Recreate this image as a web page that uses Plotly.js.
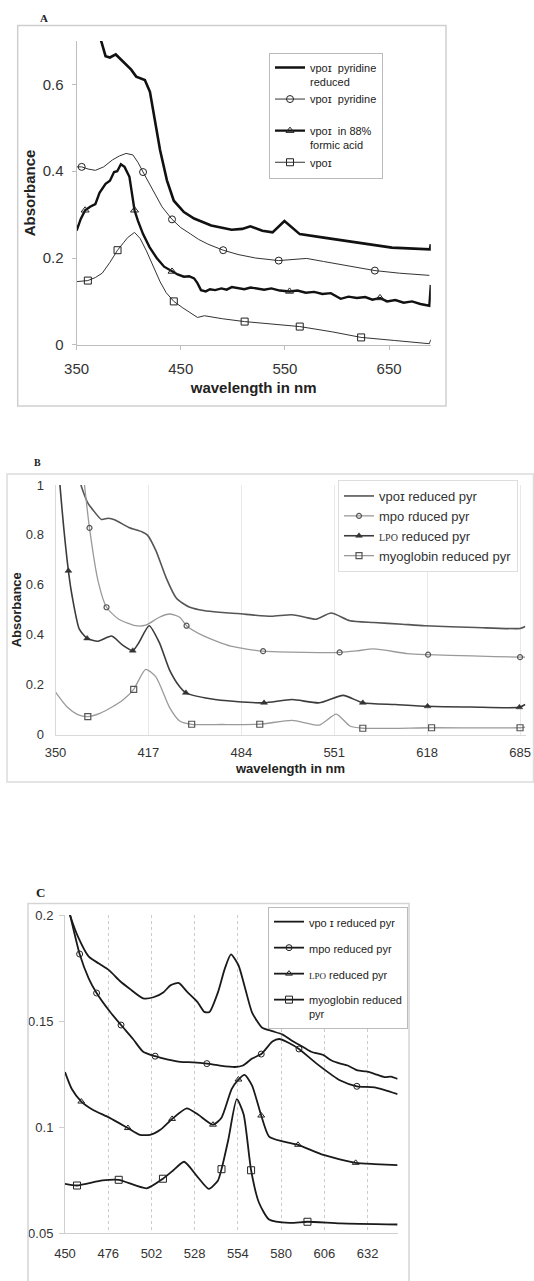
<!DOCTYPE html>
<html>
<head>
<meta charset="utf-8">
<script src="https://cdn.plot.ly/plotly-3.0.1.min.js"></script>
<style>
html,body{margin:0;padding:0;background:#fff;}
#chart{width:534px;height:1281px;}
</style>
</head>
<body>
<div id="chart"></div>
<script>
// ---------------- Panel A data ----------------
const A_xticks = [350, 450, 550, 650];
const A_yticks = [0, 0.2, 0.4, 0.6];

const A_pyrRed_x = [372, 373.6, 377.8, 382, 387.6, 394.2, 402.4, 407.2, 415.5, 420.4, 425.3, 430.1, 436.7, 443.3, 453, 462.8, 479.2, 498.8, 509, 516.8, 528.3, 538.1, 549.5, 557.7, 564.2, 587.2, 619.8, 652.6, 689.2, 690];
const A_pyrRed_y = [0.72, 0.70, 0.665, 0.662, 0.669, 0.654, 0.634, 0.618, 0.610, 0.583, 0.52, 0.449, 0.379, 0.332, 0.306, 0.291, 0.275, 0.265, 0.267, 0.273, 0.263, 0.259, 0.285, 0.267, 0.255, 0.247, 0.236, 0.224, 0.22, 0.232];

const A_pyr_x = [350, 354.9, 361, 368, 376, 384.4, 391, 397.5, 404, 409, 413.8, 420, 426, 432, 441.6, 450, 459.6, 467, 476, 490.7, 505, 521.7, 544, 557, 570.8, 587, 603.5, 620, 636.3, 660, 688.6];
const A_pyr_y = [0.41, 0.41, 0.405, 0.402, 0.41, 0.426, 0.435, 0.441, 0.4375, 0.42, 0.398, 0.37, 0.342, 0.318, 0.289, 0.27, 0.255, 0.243, 0.232, 0.218, 0.208, 0.2, 0.194, 0.196, 0.199, 0.192, 0.185, 0.178, 0.171, 0.165, 0.16];
const A_pyr_mx = [354.9, 413.8, 441.6, 490.7, 544, 636.3];
const A_pyr_my = [0.41, 0.398, 0.289, 0.218, 0.194, 0.171];

const A_formic_x = [350, 354, 358.2, 363, 368, 372, 377.8, 382, 386, 389, 392.5, 396, 400.7, 405.6, 409, 413.8, 420, 426.9, 434, 441.6, 447, 453, 458, 462.8, 466, 469.4, 474, 478, 483, 489, 494, 499, 505.4, 511, 517, 523, 530, 537, 545, 554.4, 562, 570, 578, 586, 594, 603.5, 611, 619, 627, 634, 641.2, 648, 656, 664, 672, 680, 688.6, 690];
const A_formic_y = [0.263, 0.29, 0.31, 0.318, 0.324, 0.35, 0.371, 0.378, 0.398, 0.40, 0.416, 0.41, 0.387, 0.31, 0.285, 0.255, 0.225, 0.2, 0.18, 0.169, 0.162, 0.157, 0.158, 0.153, 0.142, 0.126, 0.123, 0.128, 0.126, 0.13, 0.127, 0.133, 0.131, 0.128, 0.132, 0.129, 0.127, 0.13, 0.125, 0.123, 0.125, 0.12, 0.122, 0.117, 0.119, 0.106, 0.111, 0.108, 0.11, 0.104, 0.108, 0.1, 0.103, 0.097, 0.1, 0.094, 0.09, 0.138];
const A_formic_mx = [358.2, 405.6, 441.6, 554.4, 641.2];
const A_formic_my = [0.31, 0.31, 0.169, 0.123, 0.108];

const A_vpo_x = [350, 360.8, 368, 374.6, 382, 389.3, 395, 399, 405.6, 411, 417.1, 424, 430.2, 436, 443.3, 452, 460, 466.1, 472.7, 490, 511.3, 540, 564.2, 595, 623.1, 655, 688.6, 690];
const A_vpo_y = [0.1455, 0.148, 0.155, 0.165, 0.19, 0.218, 0.235, 0.247, 0.259, 0.245, 0.216, 0.18, 0.145, 0.12, 0.1, 0.085, 0.072, 0.063, 0.067, 0.06, 0.0535, 0.048, 0.042, 0.03, 0.017, 0.01, 0.0025, 0.012];
const A_vpo_mx = [360.8, 389.3, 443.3, 511.3, 564.2, 623.1];
const A_vpo_my = [0.148, 0.218, 0.1, 0.0535, 0.042, 0.017];

const A_names = ['vpoɪ  pyridine<br>reduced', 'vpoɪ  pyridine<br>&nbsp;', 'vpoɪ  in 88%<br>formic acid', 'vpoɪ'];

// ---------------- Panel B data ----------------
const B_xticks = [350, 417, 484, 551, 618, 685];
const B_yticks = [0, 0.2, 0.4, 0.6, 0.8, 1];

const B_vpo_x = [366, 368.4, 373.3, 377, 383.1, 388, 393, 402.8, 412.6, 416.3, 422.4, 429.8, 437.1, 442, 446.9, 456.8, 468, 481.3, 494, 505.8, 520.6, 530, 537.7, 548.8, 562.3, 579.5, 600, 616.3, 653.1, 685, 688.7];
const B_vpo_y = [1.1, 1.0, 0.928, 0.9, 0.862, 0.867, 0.86, 0.83, 0.812, 0.799, 0.737, 0.628, 0.547, 0.525, 0.51, 0.497, 0.49, 0.485, 0.478, 0.474, 0.48, 0.47, 0.462, 0.487, 0.456, 0.449, 0.442, 0.436, 0.429, 0.425, 0.433];

const B_mpo_x = [369, 370.9, 374.5, 380.7, 386.8, 395.4, 407.7, 415, 424.9, 432.2, 439.6, 444.5, 456.8, 476.4, 499.7, 530.4, 554.9, 567, 579.5, 604, 618.7, 650, 685, 688.7];
const B_mpo_y = [1.1, 1.0, 0.828, 0.615, 0.51, 0.463, 0.436, 0.438, 0.47, 0.483, 0.47, 0.436, 0.395, 0.354, 0.334, 0.329, 0.329, 0.335, 0.343, 0.324, 0.32, 0.315, 0.31, 0.31];
const B_mpo_mx = [374.5, 386.8, 444.5, 499.7, 554.9, 618.7, 685];
const B_mpo_my = [0.828, 0.51, 0.436, 0.334, 0.329, 0.32, 0.31];

const B_lpo_x = [352, 353.2, 359.3, 362.3, 367.2, 372.8, 380.7, 390.5, 398, 405.7, 410.1, 417.5, 424.9, 432.2, 439.6, 444, 461.7, 480, 500.4, 520.6, 540.2, 557.4, 571.6, 595, 618.3, 650, 684.5, 688.7];
const B_lpo_y = [1.1, 1.0, 0.656, 0.545, 0.422, 0.385, 0.374, 0.395, 0.36, 0.336, 0.368, 0.436, 0.368, 0.259, 0.191, 0.167, 0.143, 0.132, 0.127, 0.14, 0.127, 0.157, 0.127, 0.12, 0.113, 0.11, 0.109, 0.12];
const B_lpo_mx = [359.3, 372.8, 405.7, 444, 500.4, 571.6, 618.3, 684.5];
const B_lpo_my = [0.656, 0.385, 0.336, 0.167, 0.127, 0.127, 0.113, 0.109];

const B_myo_x = [350, 358.6, 366, 373.3, 382, 390.5, 399, 406.4, 415, 422.4, 432.2, 439.6, 448.2, 470, 497.3, 520.6, 540.2, 552.5, 562.3, 571.6, 621.2, 685, 688.7];
const B_myo_y = [0.17, 0.109, 0.08, 0.072, 0.085, 0.109, 0.14, 0.181, 0.261, 0.231, 0.109, 0.054, 0.041, 0.04, 0.041, 0.057, 0.038, 0.082, 0.034, 0.025, 0.027, 0.027, 0.03];
const B_myo_mx = [373.3, 406.4, 448.2, 497.3, 571.6, 621.2, 685];
const B_myo_my = [0.072, 0.181, 0.041, 0.041, 0.025, 0.027, 0.027];

const B_names = ['vpoɪ reduced pyr', 'mpo rduced pyr', '<span style="font-family:Liberation Serif;font-size:10px">LPO</span> reduced pyr', 'myoglobin reduced pyr'];

// ---------------- Panel C data ----------------
const C_xticks = [450, 476, 502, 528, 554, 580, 606, 632];
const C_yticks = [0.05, 0.1, 0.15, 0.2];

const C_vpo_x = [452, 453.1, 458.2, 464.3, 470.4, 476.6, 482.7, 488.9, 497, 503.2, 509.3, 513.4, 518.5, 523.6, 529.8, 533.8, 536.9, 542, 546.1, 549.8, 554.3, 558.4, 562.5, 568.6, 574.7, 580.9, 587, 591.1, 598, 605.4, 610, 615.6, 620, 625.9, 631, 636.1, 642.2, 646, 650];
const C_vpo_y = [0.203, 0.1998, 0.1891, 0.1804, 0.1771, 0.1739, 0.1691, 0.1652, 0.1607, 0.1612, 0.1636, 0.1668, 0.1679, 0.1636, 0.1588, 0.1543, 0.1543, 0.1636, 0.1747, 0.1814, 0.1763, 0.1652, 0.154, 0.1468, 0.1452, 0.1436, 0.1404, 0.1387, 0.1355, 0.1339, 0.1315, 0.1299, 0.129, 0.1267, 0.1262, 0.1251, 0.1235, 0.1238, 0.1227];

const C_mpo_x = [452, 453.1, 458.8, 464.3, 469, 476.6, 483.7, 490.9, 497, 504.2, 512, 519.5, 527, 535.3, 543, 552.2, 557, 562.5, 568, 574.7, 578.8, 585, 590.7, 601.3, 615.6, 625.5, 636.1, 650];
const C_mpo_y = [0.203, 0.1998, 0.1816, 0.17, 0.1632, 0.1548, 0.1481, 0.1415, 0.1355, 0.1334, 0.1318, 0.1307, 0.1305, 0.1299, 0.129, 0.1283, 0.129, 0.1323, 0.1344, 0.1403, 0.1415, 0.1395, 0.1368, 0.1299, 0.1219, 0.1192, 0.1187, 0.1155];
const C_mpo_mx = [458.8, 469, 483.7, 504.2, 535.3, 568, 590.7, 625.5];
const C_mpo_my = [0.1816, 0.1632, 0.1481, 0.1334, 0.1299, 0.1344, 0.1368, 0.1192];

const C_lpo_x = [450, 454.1, 459.8, 466.4, 476.6, 487.8, 495, 501.1, 507.3, 514.4, 523.2, 529.8, 539, 544.1, 550.2, 554.3, 558, 562.5, 568, 572.7, 580.9, 590.1, 605.4, 624.8, 636, 650];
const C_lpo_y = [0.1259, 0.1179, 0.112, 0.1083, 0.1044, 0.0995, 0.0963, 0.0963, 0.0987, 0.1038, 0.1088, 0.106, 0.1011, 0.1044, 0.1179, 0.1224, 0.1246, 0.1195, 0.1054, 0.0955, 0.0932, 0.0916, 0.0868, 0.0831, 0.0825, 0.082];
const C_lpo_mx = [459.8, 487.8, 514.4, 539, 554.3, 568, 590.1, 624.8];
const C_lpo_my = [0.112, 0.0995, 0.1038, 0.1011, 0.1224, 0.1054, 0.0916, 0.0831];

const C_myo_x = [450, 457.2, 472.5, 482.3, 499.1, 508.9, 515, 521.6, 529.8, 536.5, 542, 544.1, 548.2, 553.3, 557.4, 561.9, 566.6, 572.7, 585, 595.8, 615.6, 650];
const C_myo_y = [0.0732, 0.0724, 0.0748, 0.0751, 0.0711, 0.0756, 0.0795, 0.0836, 0.0764, 0.0708, 0.0748, 0.0801, 0.094, 0.1131, 0.106, 0.0796, 0.0644, 0.0564, 0.0548, 0.0553, 0.0545, 0.054];
const C_myo_mx = [457.2, 482.3, 508.9, 544.1, 561.9, 595.8];
const C_myo_my = [0.0724, 0.0751, 0.0756, 0.0801, 0.0796, 0.0553];

const C_names = ['vpo ɪ reduced pyr', 'mpo reduced pyr', '<span style="font-family:Liberation Serif;font-size:9px">LPO</span> reduced pyr', 'myoglobin reduced<br>pyr'];

// ---------------- helpers ----------------
const W = 534, H = 1281;
const FONT = 'Liberation Sans, Arial, Helvetica, sans-serif';
const px = v => v / W;
const py = v => 1 - v / H;

const traces = [];
function series(ax, leg, name, group, x, y, mx, my, line, marker, shape) {
  const xa = 'x' + ax, ya = 'y' + ax;
  traces.push({x: x, y: y, xaxis: xa, yaxis: ya, mode: 'lines', line: Object.assign({shape: shape || 'linear', smoothing: 0.6}, line), showlegend: false, hoverinfo: 'skip', cliponaxis: true});
  if (mx) {
    traces.push({x: mx, y: my, xaxis: xa, yaxis: ya, mode: 'markers', marker: marker, showlegend: false, hoverinfo: 'skip', cliponaxis: false});
  }
  traces.push({x: [null], y: [null], xaxis: xa, yaxis: ya, name: name, legend: leg, legendgroup: group,
    mode: mx ? 'lines+markers' : 'lines', line: {color: line.color, width: line.width}, marker: marker || {}, showlegend: true});
}

// Panel A
series('', 'legend', A_names[0], 'a1', A_pyrRed_x, A_pyrRed_y, null, null, {color: '#111', width: 2.6});
series('', 'legend', A_names[1], 'a2', A_pyr_x, A_pyr_y, A_pyr_mx, A_pyr_my, {color: '#333', width: 1},
  {symbol: 'circle-open', size: 7, color: '#222', line: {width: 1, color: '#222'}});
series('', 'legend', A_names[2], 'a3', A_formic_x, A_formic_y, A_formic_mx, A_formic_my, {color: '#111', width: 2.4},
  {symbol: 'triangle-up-open', size: 7, color: '#222', line: {width: 1, color: '#222'}});
series('', 'legend', A_names[3], 'a4', A_vpo_x, A_vpo_y, A_vpo_mx, A_vpo_my, {color: '#333', width: 1},
  {symbol: 'square-open', size: 7, color: '#222', line: {width: 1, color: '#222'}});

// Panel B
series('2', 'legend2', B_names[0], 'b1', B_vpo_x, B_vpo_y, null, null, {color: '#555', width: 1.6}, null, 'spline');
series('2', 'legend2', B_names[1], 'b2', B_mpo_x, B_mpo_y, B_mpo_mx, B_mpo_my, {color: '#9a9a9a', width: 1.3},
  {symbol: 'circle-open', size: 5, color: '#555', line: {width: 1.2, color: '#555'}}, 'spline');
series('2', 'legend2', B_names[2], 'b3', B_lpo_x, B_lpo_y, B_lpo_mx, B_lpo_my, {color: '#3c3c3c', width: 1.6},
  {symbol: 'triangle-up', size: 6, color: '#333', line: {width: 0.5, color: '#333'}}, 'spline');
series('2', 'legend2', B_names[3], 'b4', B_myo_x, B_myo_y, B_myo_mx, B_myo_my, {color: '#9a9a9a', width: 1.3},
  {symbol: 'square-open', size: 6, color: '#555', line: {width: 1.2, color: '#555'}}, 'spline');

// Panel C
series('3', 'legend3', C_names[0], 'c1', C_vpo_x, C_vpo_y, null, null, {color: '#1a1a1a', width: 1.8}, null, 'spline');
series('3', 'legend3', C_names[1], 'c2', C_mpo_x, C_mpo_y, C_mpo_mx, C_mpo_my, {color: '#1a1a1a', width: 1.8},
  {symbol: 'circle-open', size: 6, color: '#222', line: {width: 1, color: '#222'}}, 'spline');
series('3', 'legend3', C_names[2], 'c3', C_lpo_x, C_lpo_y, C_lpo_mx, C_lpo_my, {color: '#1a1a1a', width: 1.8},
  {symbol: 'triangle-up-open', size: 6, color: '#222', line: {width: 1, color: '#222'}}, 'spline');
series('3', 'legend3', C_names[3], 'c4', C_myo_x, C_myo_y, C_myo_mx, C_myo_my, {color: '#1a1a1a', width: 1.8},
  {symbol: 'square-open', size: 7, color: '#222', line: {width: 1, color: '#222'}}, 'spline');

// ---------------- layout ----------------
const tickGrey = '#bdbdbd';
const layout = {
  width: W, height: H,
  margin: {l: 0, r: 0, t: 0, b: 0},
  paper_bgcolor: '#fff', plot_bgcolor: 'rgba(0,0,0,0)',
  font: {family: FONT, color: '#222'},
  showlegend: true,
  // Panel A axes
  xaxis: {domain: [px(76.6), px(430.8)], range: [350, 690], anchor: 'y', showline: true, linecolor: tickGrey, linewidth: 1,
    ticks: 'outside', ticklen: 4, tickcolor: tickGrey, tickvals: A_xticks, showgrid: false, zeroline: false,
    tickfont: {size: 15, color: '#333'}, ticklabelstandoff: 6,
    title: {text: 'wavelength in nm', font: {size: 15, weight: 'bold', color: '#222'}, standoff: 6}},
  yaxis: {domain: [py(344.8), py(41)], range: [0, 0.7], anchor: 'x', showline: true, linecolor: tickGrey, linewidth: 1,
    ticks: 'outside', ticklen: 4, tickcolor: tickGrey, tickvals: A_yticks, showgrid: false, zeroline: false,
    tickfont: {size: 15, color: '#333'}, ticklabelstandoff: 5,
    title: {text: 'Absorbance', font: {size: 15, weight: 'bold', color: '#222'}, standoff: 3}},
  // Panel B axes
  xaxis2: {domain: [px(55.5), px(525.6)], range: [350, 689], anchor: 'y2', showline: true, linecolor: '#d9d9d9', linewidth: 1,
    ticks: '', tickvals: B_xticks, showgrid: true, gridcolor: '#e8e8e8', gridwidth: 1, zeroline: false,
    tickfont: {size: 13, color: '#333'}, ticklabelstandoff: 6,
    title: {text: 'wavelength in nm', font: {size: 13, weight: 'bold', color: '#222'}, standoff: 4}},
  yaxis2: {domain: [py(734.5), py(485)], range: [0, 1], anchor: 'x2', showline: true, linecolor: '#d9d9d9', linewidth: 1,
    ticks: '', tickvals: B_yticks, showgrid: false, zeroline: false,
    tickfont: {size: 13, color: '#333'}, ticklabelstandoff: 8,
    title: {text: 'Absorbance', font: {size: 13, weight: 'bold', color: '#222'}, standoff: 1}},
  // Panel C axes
  xaxis3: {domain: [px(65), px(397.6)], range: [450, 650], anchor: 'y3', showline: true, linecolor: '#cfcfcf', linewidth: 1,
    ticks: '', tickvals: C_xticks, showgrid: true, gridcolor: '#cccccc', griddash: 'dot', gridwidth: 1, zeroline: false,
    tickfont: {size: 13, color: '#333'}, ticklabelstandoff: 8},
  yaxis3: {domain: [py(1233), py(915)], range: [0.05, 0.2], anchor: 'x3', showline: true, linecolor: '#cfcfcf', linewidth: 1,
    ticks: 'outside', ticklen: 5, tickcolor: '#cfcfcf', tickvals: C_yticks, showgrid: false, zeroline: false,
    tickfont: {size: 13, color: '#333'}, ticklabelstandoff: 3},
  legend: {x: px(269), y: py(52.8), xanchor: 'left', yanchor: 'top', bgcolor: '#fff', bordercolor: '#bbb', borderwidth: 1,
    font: {size: 11, color: '#222'}, valign: 'top', tracegroupgap: 0, itemwidth: 30, traceorder: 'normal'},
  legend2: {x: px(338), y: py(480), xanchor: 'left', yanchor: 'top', bgcolor: '#fff', bordercolor: '#ddd', borderwidth: 1,
    font: {size: 13, color: '#333'}, tracegroupgap: 0, itemwidth: 30, traceorder: 'normal'},
  legend3: {x: px(268), y: py(907), xanchor: 'left', yanchor: 'top', bgcolor: '#fff', bordercolor: '#bbb', borderwidth: 1,
    font: {size: 11, color: '#222'}, valign: 'top', tracegroupgap: 7, itemwidth: 30, traceorder: 'grouped'},
  shapes: [
    {type: 'rect', xref: 'paper', yref: 'paper', x0: px(17.7), x1: px(446), y0: py(406), y1: py(25.5), line: {color: '#cfcfcf', width: 1.5}},
    {type: 'rect', xref: 'paper', yref: 'paper', x0: px(7), x1: px(533.5), y0: py(782), y1: py(474), line: {color: '#dcdcdc', width: 1.5}},
    {type: 'path', xref: 'paper', yref: 'paper', path: 'M ' + px(28) + ',-0.01 L ' + px(28) + ',' + py(903.4) + ' L ' + px(409) + ',' + py(903.4) + ' L ' + px(409) + ',-0.01', line: {color: '#d5d5d5', width: 1.5}}
  ],
  annotations: [
    {text: '<b>A</b>', xref: 'paper', yref: 'paper', x: px(43.6), y: py(17.7), showarrow: false, xanchor: 'center', yanchor: 'middle', font: {family: 'Liberation Serif, Times New Roman, serif', size: 11, color: '#222'}},
    {text: '<b>B</b>', xref: 'paper', yref: 'paper', x: px(37), y: py(463), showarrow: false, xanchor: 'center', yanchor: 'middle', font: {family: 'Liberation Serif, Times New Roman, serif', size: 10, color: '#222'}},
    {text: '<b>C</b>', xref: 'paper', yref: 'paper', x: px(40), y: py(892.5), showarrow: false, xanchor: 'center', yanchor: 'middle', font: {family: 'Liberation Serif, Times New Roman, serif', size: 13, color: '#222'}}
  ]
};

Plotly.newPlot('chart', traces, layout, {staticPlot: true, displayModeBar: false});
</script>
</body>
</html>
